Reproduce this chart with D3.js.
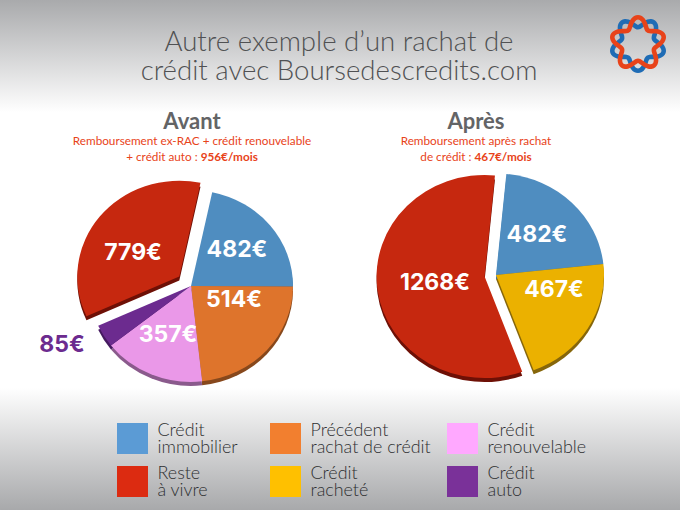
<!DOCTYPE html>
<html>
<head>
<meta charset="utf-8">
<script src="https://d3js.org/d3.v7.min.js"></script>
<style>
  html, body { margin: 0; padding: 0; background: #fff; }
  svg { display: block; }
  text { font-family: Lato, "Open Sans", sans-serif; }
</style>
</head>
<body>
<div id="chart"></div>
<script>
// Values in euros
const avantLabels = ["Crédit immobilier", "Précédent rachat de crédit", "Crédit renouvelable", "Crédit auto", "Reste à vivre"];
const avantValues = [482, 514, 357, 85, 779];
const apresLabels = ["Crédit immobilier", "Crédit racheté", "Reste à vivre"];
const apresValues = [482, 467, 1268];

const titleLines = ["Autre exemple d’un rachat de", "crédit avec Boursedescredits.com"];
const legendLines = [
  ["Crédit", "immobilier"], ["Précédent", "rachat de crédit"], ["Crédit", "renouvelable"],
  ["Reste", "à vivre"], ["Crédit", "racheté"], ["Crédit", "auto"]
];
const legendKeys = ["Crédit immobilier", "Précédent rachat de crédit", "Crédit renouvelable", "Reste à vivre", "Crédit racheté", "Crédit auto"];

// Slice colours: top face, side face, legend swatch
const topColor = d3.scaleOrdinal().domain(legendKeys).range(["#4f8dc0", "#de742c", "#ea98e8", "#c6280f", "#ebb100", "#6c2b8f"]);
const sideColor = d3.scaleOrdinal().domain(legendKeys).range(["#2f5f88", "#87481c", "#8a5a8c", "#6e1006", "#86660a", "#451a60"]);
const swatchColor = d3.scaleOrdinal().domain(legendKeys).range(["#5b9bd5", "#f27f2f", "#ffa8ff", "#dc2b11", "#ffc000", "#7a3199"]);

const width = 680, height = 510;
const deg = Math.PI / 180;

const svg = d3.select("#chart").append("svg")
  .attr("width", width)
  .attr("height", height);

// Background: grey fading to white in the middle
const defs = svg.append("defs");
const bg = defs.append("linearGradient")
  .attr("id", "bg").attr("x1", 0).attr("x2", 0).attr("y1", 0).attr("y2", 1);
[[0, "#a9aaac"], [0.22, "#ffffff"], [0.76, "#ffffff"], [1, "#a8a9ab"]].forEach(s => {
  bg.append("stop").attr("offset", s[0]).attr("stop-color", s[1]);
});
svg.append("rect").attr("width", width).attr("height", height).attr("fill", "url(#bg)");

// Title
svg.selectAll(".title")
  .data(titleLines)
  .enter().append("text")
  .attr("class", "title")
  .attr("x", 339)
  .attr("y", (d, i) => 51 + i * 29)
  .attr("text-anchor", "middle")
  .attr("font-size", 27.6)
  .attr("font-weight", 300)
  .attr("fill", "#505153")
  .text(d => d);

// Logo, two braided rings
const ring = sign => d3.lineRadial()
  .angle(a => a)
  .radius(a => 21.8 + sign * 5 * Math.cos(5 * a))
  .curve(d3.curveCardinalClosed)(d3.range(0, 2 * Math.PI, Math.PI / 30));
const logo = svg.append("g").attr("transform", "translate(638,44)");
logo.append("path").attr("d", ring(-1)).attr("fill", "none").attr("stroke", "#1f6cb5").attr("stroke-width", 4.6);
logo.append("path").attr("d", ring(1)).attr("fill", "none").attr("stroke", "#e8431a").attr("stroke-width", 4.6);

// Pie headings
const headings = [
  { x: 192, name: "Avant", lines: [["Remboursement ex-RAC + crédit renouvelable", ""], ["+ crédit auto : ", "956€/mois"]] },
  { x: 476, name: "Après", lines: [["Remboursement après rachat", ""], ["de crédit : ", "467€/mois"]] }
];
headings.forEach(h => {
  svg.append("text")
    .attr("x", h.x).attr("y", 129)
    .attr("text-anchor", "middle")
    .attr("font-size", 22).attr("font-weight", 700)
    .attr("fill", "#636466")
    .text(h.name);
  h.lines.forEach((l, i) => {
    const t = svg.append("text")
      .attr("x", h.x).attr("y", 145 + i * 15.5)
      .attr("text-anchor", "middle")
      .attr("font-size", 11.75)
      .attr("fill", "#e8431a");
    t.append("tspan").text(l[0]);
    if (l[1]) t.append("tspan").attr("font-weight", 700).text(l[1]);
  });
});

// One tilted pie with a thin side face
function drawPie(opts) {
  const pie = d3.pie().sort(null)
    .startAngle(opts.start * deg)
    .endAngle((opts.start + 360) * deg);
  const arc = d3.arc().innerRadius(0).outerRadius(opts.r);
  const slices = pie(opts.values).map((d, i) => ({ ...d, key: opts.labels[i] }));

  const place = (d, dy) => {
    let dx = 0, off = 0;
    if (d.key === opts.exploded) {
      const mid = (d.startAngle + d.endAngle) / 2;
      dx = Math.sin(mid) * opts.gap;
      off = -Math.cos(mid) * opts.gap;
    }
    return "translate(" + (opts.cx + dx) + "," + (opts.cy + off + dy) + ") scale(1," + opts.squash + ")";
  };

  const g = svg.append("g");
  g.selectAll(".side")
    .data(slices)
    .enter().append("path")
    .attr("class", "side")
    .attr("transform", d => place(d, 4))
    .attr("fill", d => sideColor(d.key))
    .attr("d", arc);
  g.selectAll(".face")
    .data(slices)
    .enter().append("path")
    .attr("class", "face")
    .attr("transform", d => place(d, 0))
    .attr("fill", d => topColor(d.key))
    .attr("d", arc);
}

drawPie({ values: avantValues, labels: avantLabels, start: 12, cx: 191, cy: 286, r: 102, squash: 0.94, exploded: "Reste à vivre", gap: 15 });
drawPie({ values: apresValues, labels: apresLabels, start: 5.5, cx: 496, cy: 275, r: 108, squash: 0.94, exploded: "Reste à vivre", gap: 11.5 });

// Value labels, placed by hand in the original
const valueLabels = [
  { v: avantValues[0], x: 237, y: 257, c: "#fff" },
  { v: avantValues[1], x: 234, y: 307, c: "#fff" },
  { v: avantValues[2], x: 168, y: 342, c: "#fff" },
  { v: avantValues[4], x: 133, y: 260, c: "#fff" },
  { v: avantValues[3], x: 62, y: 352, c: "#6c2b8f" },
  { v: apresValues[0], x: 537, y: 242, c: "#fff" },
  { v: apresValues[1], x: 554, y: 297, c: "#fff" },
  { v: apresValues[2], x: 435, y: 290, c: "#fff" }
];
svg.selectAll(".value")
  .data(valueLabels)
  .enter().append("text")
  .attr("class", "value")
  .attr("x", d => d.x)
  .attr("y", d => d.y)
  .attr("text-anchor", "middle")
  .style("font-family", "Inter, Lato, sans-serif")
  .attr("font-size", 23)
  .attr("font-weight", 700)
  .attr("fill", d => d.c)
  .text(d => d.v + "€");

// Legend
const legendX = d3.scaleOrdinal().domain([0, 1, 2]).range([117, 270, 447]);
const legendY = d3.scaleOrdinal().domain([0, 1]).range([423, 466]);
const item = svg.selectAll(".legend")
  .data(legendKeys)
  .enter().append("g")
  .attr("class", "legend")
  .attr("transform", (d, i) => "translate(" + legendX(i % 3) + "," + legendY(Math.floor(i / 3)) + ")");
item.append("rect")
  .attr("width", 31).attr("height", 31)
  .attr("fill", d => swatchColor(d));
item.each(function (d, i) {
  d3.select(this).selectAll("text")
    .data(legendLines[i])
    .enter().append("text")
    .attr("x", 40.5)
    .attr("y", (l, j) => 13 + j * 17)
    .attr("font-size", 17.9)
    .attr("font-weight", 300)
    .attr("fill", "#2e2f31")
    .text(l => l);
});
</script>
</body>
</html>
